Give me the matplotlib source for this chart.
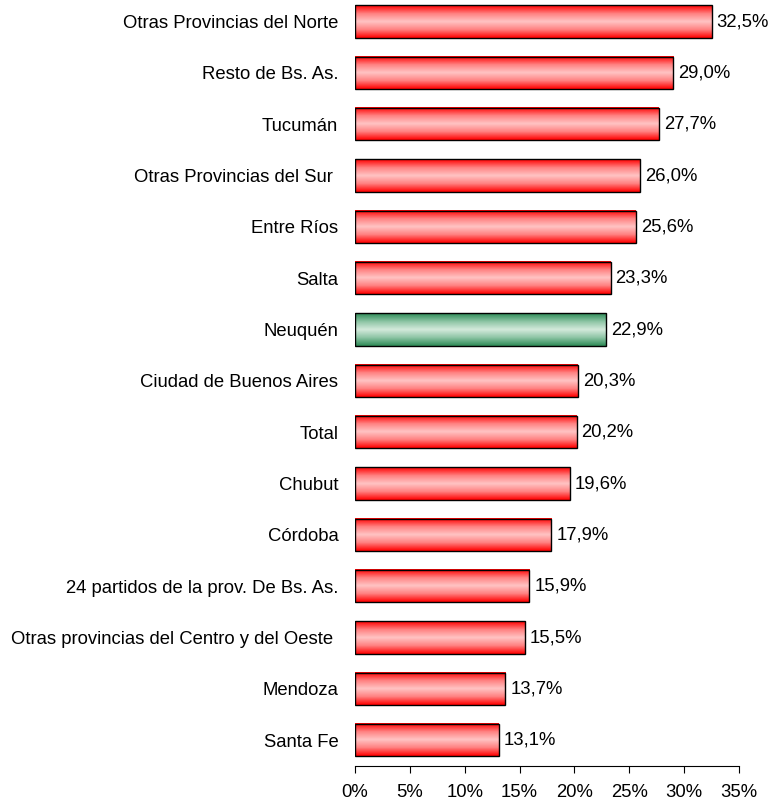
import numpy as np
import matplotlib
matplotlib.use('Agg')
import matplotlib.pyplot as plt
from matplotlib.colors import LinearSegmentedColormap

plt.rcParams['font.family'] = ['Liberation Sans', 'DejaVu Sans']

# Data (top to bottom)
regions = ['Otras Provincias del Norte', 'Resto de Bs. As.', 'Tucumán',
           'Otras Provincias del Sur ', 'Entre Ríos', 'Salta', 'Neuquén',
           'Ciudad de Buenos Aires', 'Total', 'Chubut', 'Córdoba',
           '24 partidos de la prov. De Bs. As.',
           'Otras provincias del Centro y del Oeste ', 'Mendoza', 'Santa Fe']
values = [32.5, 29.0, 27.7, 26.0, 25.6, 23.3, 22.9, 20.3, 20.2, 19.6, 17.9,
          15.9, 15.5, 13.7, 13.1]
highlight = 'Neuquén'

red_cmap = LinearSegmentedColormap.from_list(
    'red', ['#ff0000', '#ff8080', '#ffc4c4', '#ff8080', '#ff0000'])
green_cmap = LinearSegmentedColormap.from_list(
    'green', ['#2e8b57', '#8cc4a4', '#d4eadc', '#8cc4a4', '#2e8b57'])

fs = 13.3

fig = plt.figure(figsize=(7.71, 8.02), dpi=100)
ax = fig.add_axes([0.4604, 0.0449, 0.4981, 0.9601])

bar_h = 0.63
grad = np.linspace(0, 1, 64).reshape(-1, 1)
for i, (name, v) in enumerate(zip(regions, values)):
    cmap = green_cmap if name == highlight else red_cmap
    ax.imshow(grad, cmap=cmap, aspect='auto', interpolation='bilinear',
              extent=(0, v, i + bar_h / 2, i - bar_h / 2), zorder=2)
    ax.barh(i, v, height=bar_h, facecolor='none', edgecolor='black',
            linewidth=1.0, zorder=3)
    ax.text(v + 0.45, i, f'{v:.1f}%'.replace('.', ','), va='center',
            ha='left', fontsize=fs)

ax.set_xlim(0, 35)
ax.set_ylim(len(regions) - 0.5, -0.5)
ax.set_yticks(range(len(regions)))
ax.set_yticklabels(regions, fontsize=fs)
ax.tick_params(axis='y', length=0, pad=12)
ax.set_xticks(np.arange(0, 36, 5))
ax.set_xticklabels([f'{t}%' for t in range(0, 36, 5)], fontsize=fs)
ax.tick_params(axis='x', direction='out', length=5, pad=8)
for s in ['top', 'right', 'left']:
    ax.spines[s].set_visible(False)
ax.set_facecolor('none')

fig.savefig('out.png', dpi=100)
